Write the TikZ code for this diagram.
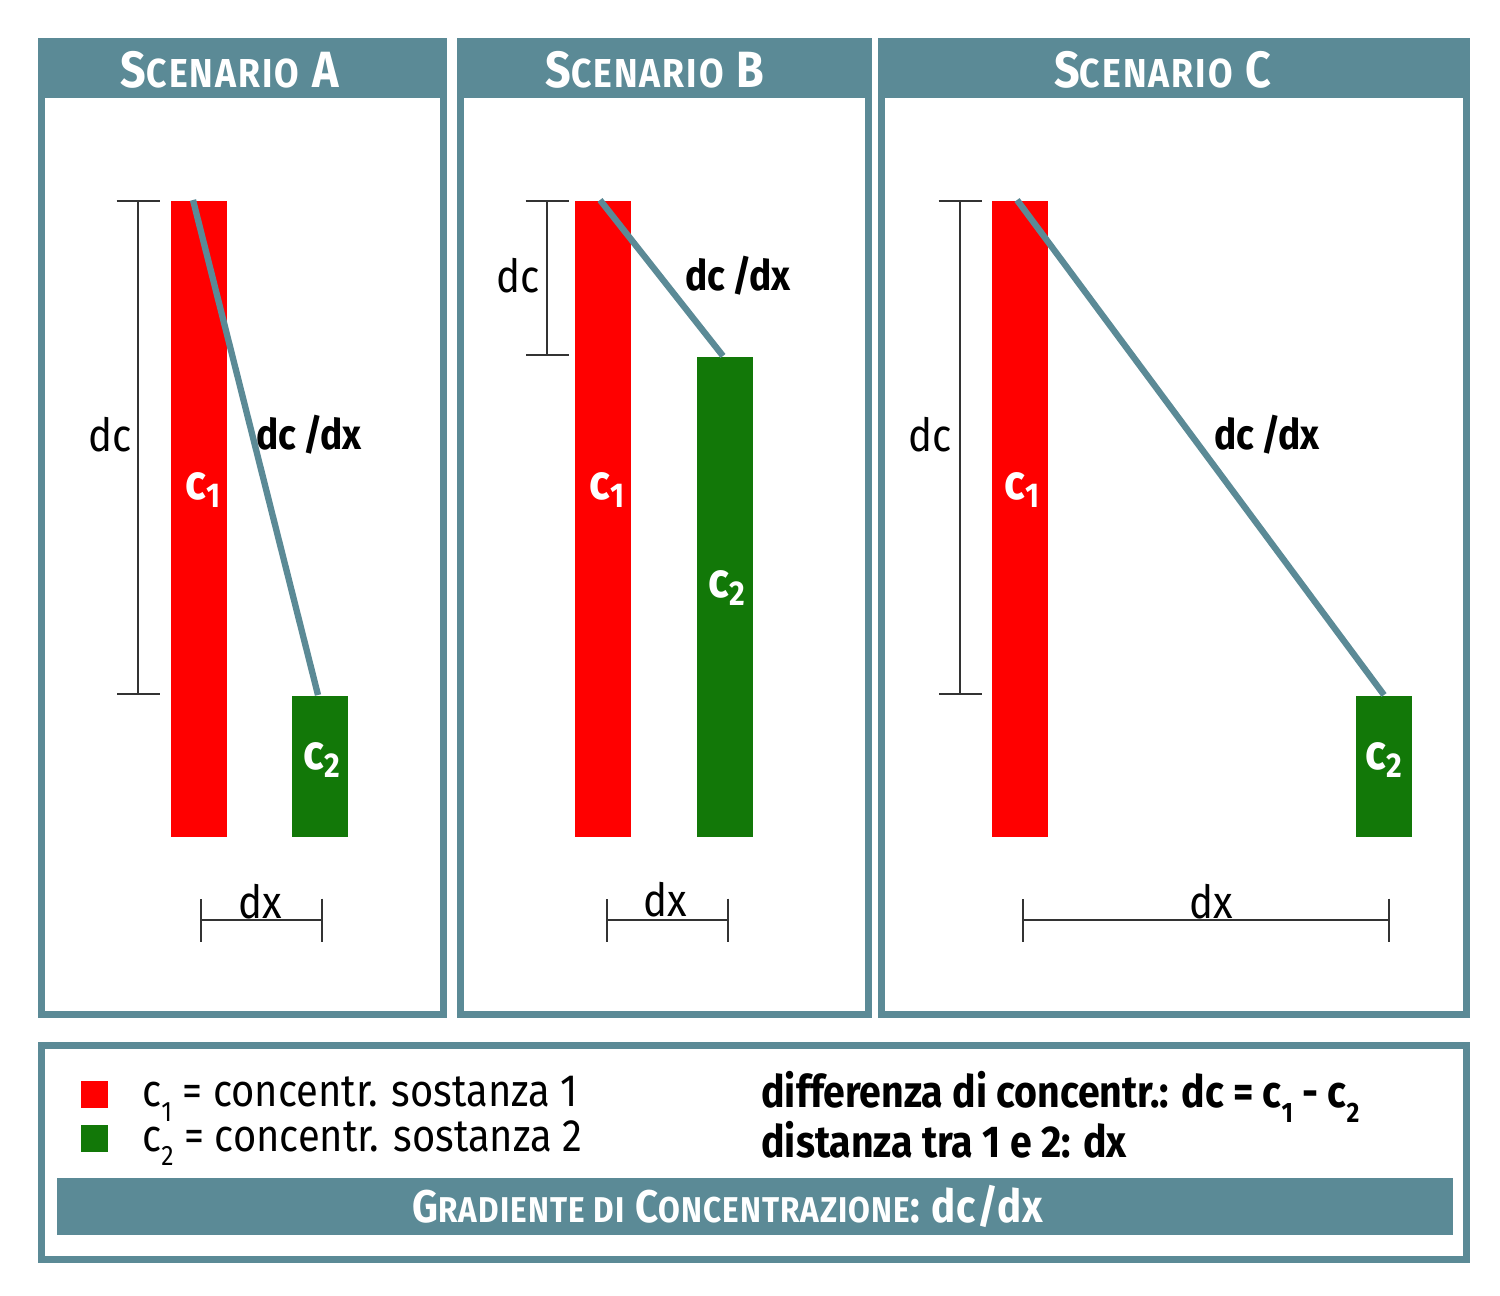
\documentclass[tikz,border=0pt]{standalone}
\usepackage{fontspec}
\setmainfont{Fira Sans}[FakeStretch=0.88]
\usetikzlibrary{arrows.meta,positioning}
\definecolor{panelteal}{RGB}{91,138,150}
\definecolor{barred}{RGB}{255,0,0}
\definecolor{bargreen}{RGB}{18,120,8}
\newcommand{\smc}[1]{{\fontsize{11.5}{13}\selectfont #1}}
\newcommand{\bsmc}[1]{{\fontsize{10.2}{12}\selectfont #1}}
\newcommand{\lowsub}[1]{\raisebox{-4.2pt}{\fontsize{8}{9}\selectfont #1}}
\tikzset{
        header/.style = {font=\bfseries\fontsize{14.5}{16}\selectfont\addfontfeature{LetterSpace=5}, text=white},
        bandtitle/.style = {font=\bfseries\fontsize{13}{16}\selectfont\addfontfeature{LetterSpace=3}, text=white},
        redbar/.style = {fill=barred, inner sep=0pt, minimum width=5.6mm, anchor=north},
        greenbar/.style = {fill=bargreen, inner sep=0pt, minimum width=5.6mm, anchor=north},
        barlbl/.style = {font=\bfseries\fontsize{14}{16}\selectfont, text=white},
        gradline/.style = {draw=panelteal, line width=1.8pt},
        bracket/.style = {draw=black!80, line width=0.6pt, {Bar[width=4.3mm]}-{Bar[width=4.3mm]}},
        lbl/.style = {font=\fontsize{13}{15}\selectfont},
        gradlbl/.style = {font=\bfseries\fontsize{12}{14}\selectfont},
        legend/.style = {font=\fontsize{12.9}{15}\selectfont, anchor=west},
        legendb/.style = {font=\bfseries\fontsize{12.7}{15}\selectfont, anchor=west}
}

\begin{document}
\begin{tikzpicture}[x=0.1mm, y=-0.1mm]
        \useasboundingbox (0,0) rectangle (1500,1295);

        % Panels
        \fill[panelteal] (38,38) rectangle (447,1018);
        \fill[white] (45,98) rectangle (440,1011);
        \fill[panelteal] (457,38) rectangle (872,1018);
        \fill[white] (464,98) rectangle (865,1011);
        \fill[panelteal] (878,38) rectangle (1470,1018);
        \fill[white] (885,98) rectangle (1463,1011);
        \node[header] (titleA) at (230,70) {S\smc{CENARIO} A};
        \node[header] (titleB) at (655,70) {S\smc{CENARIO} B};
        \node[header] (titleC) at (1163,70) {S\smc{CENARIO} C};

        % Scenario A
        \node[redbar, minimum height=63.6mm] (redA) at (199,200) {};
        \node[greenbar, minimum height=14.1mm] (greenA) at (320,695) {};
        \draw[gradline] ([xshift=-0.6mm]redA.north) -- ([xshift=-0.2mm]greenA.north);
        \node[barlbl] (cA1) at (204,490) {c\textsubscript{1}};
        \node[barlbl] (cA2) at (323,760) {c\textsubscript{2}};
        \coordinate (dcAtop) at (138,200);
        \coordinate (dcAbot) at (138,695);
        \draw[bracket] (dcAtop) -- (dcAbot);
        \node[lbl] (dcA) at (110,435) {dc};
        \node[gradlbl] (gradA) at (309,435) {dc\,/dx};
        \coordinate (dxAleft) at (200,920);
        \coordinate (dxAright) at (323,920);
        \draw[bracket] (dxAleft) -- (dxAright);
        \node[lbl] (dxA) at (260,902) {dx};

        % Scenario B
        \node[redbar, minimum height=63.6mm] (redB) at (603,200) {};
        \node[greenbar, minimum height=48mm] (greenB) at (725,356) {};
        \draw[gradline] ([xshift=-0.3mm]redB.north) -- ([xshift=-0.2mm]greenB.north);
        \node[barlbl] (cB1) at (608,490) {c\textsubscript{1}};
        \node[barlbl] (cB2) at (728,588) {c\textsubscript{2}};
        \coordinate (dcBtop) at (547,200);
        \coordinate (dcBbot) at (547,356);
        \draw[bracket] (dcBtop) -- (dcBbot);
        \node[lbl] (dcB) at (518,276) {dc};
        \node[gradlbl] (gradB) at (738,276) {dc\,/dx};
        \coordinate (dxBleft) at (606,920);
        \coordinate (dxBright) at (729,920);
        \draw[bracket] (dxBleft) -- (dxBright);
        \node[lbl] (dxB) at (665,900) {dx};

        % Scenario C
        \node[redbar, minimum height=63.6mm] (redC) at (1020,200) {};
        \node[greenbar, minimum height=14.1mm] (greenC) at (1384,695) {};
        \draw[gradline] ([xshift=-0.3mm]redC.north) -- (greenC.north);
        \node[barlbl] (cC1) at (1023,490) {c\textsubscript{1}};
        \node[barlbl] (cC2) at (1385,760) {c\textsubscript{2}};
        \coordinate (dcCtop) at (960,200);
        \coordinate (dcCbot) at (960,695);
        \draw[bracket] (dcCtop) -- (dcCbot);
        \node[lbl] (dcC) at (930,435) {dc};
        \node[gradlbl] (gradC) at (1267,435) {dc\,/dx};
        \coordinate (dxCleft) at (1022,920);
        \coordinate (dxCright) at (1390,920);
        \draw[bracket] (dxCleft) -- (dxCright);
        \node[lbl] (dxC) at (1211,902) {dx};

        % Legend
        \fill[panelteal] (38,1042) rectangle (1470,1263);
        \fill[white] (45,1049) rectangle (1463,1256);
        \fill[panelteal] (57,1178) rectangle (1453,1235);
        \node[fill=barred, minimum size=2.7mm, inner sep=0pt] (keyred) at (94,1094) {};
        \node[fill=bargreen, minimum size=2.7mm, inner sep=0pt] (keygreen) at (94,1138) {};
        \node[legend] (txtred) at (130,1099) {c\lowsub{1} = concentr. sostanza 1};
        \node[legend] (txtgreen) at (130,1143) {c\lowsub{2} = concentr. sostanza 2};
        \node[legendb] (txtdiff) at (749,1097) {differenza di concentr.: dc = c\lowsub{1} - c\lowsub{2}};
        \node[legendb] (txtdist) at (749,1140) {distanza tra 1 e 2: dx};
        \node[bandtitle] (gradtitle) at (728,1206) {G\bsmc{RADIENTE DI} C\bsmc{ONCENTRAZIONE}: dc/dx};

\end{tikzpicture}
\end{document}
